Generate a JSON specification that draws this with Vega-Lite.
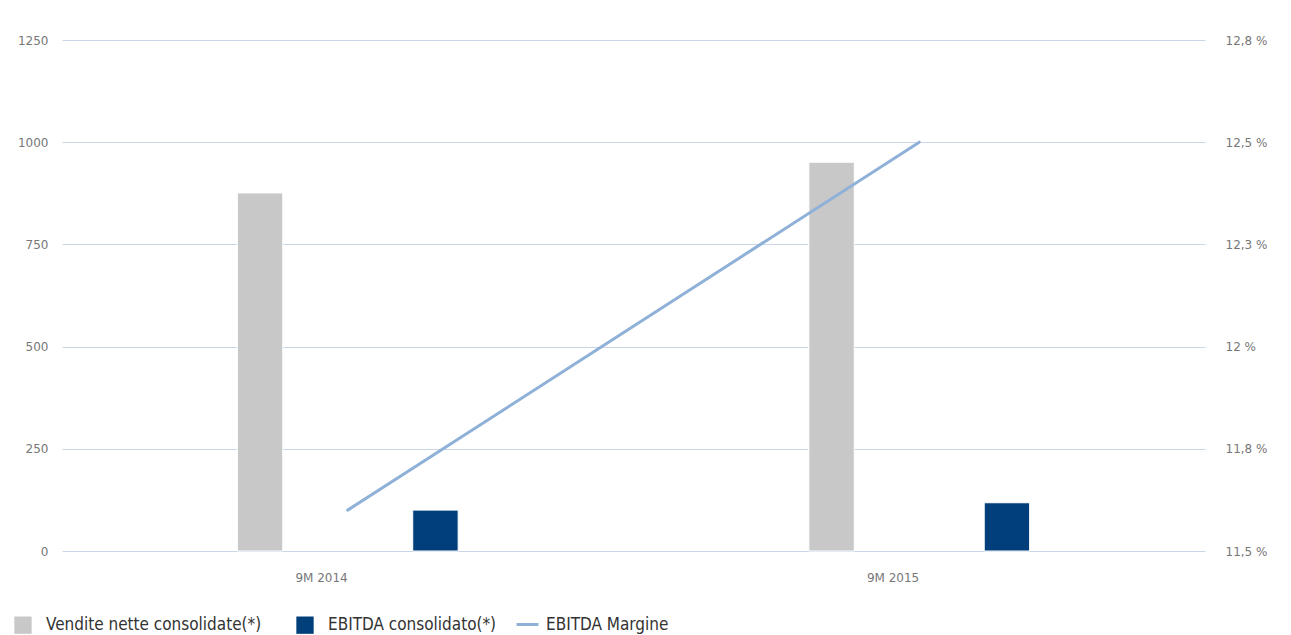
{
  "$schema": "https://vega.github.io/schema/vega-lite/v6.json",
  "width": 1143,
  "height": 511,
  "autosize": {"type": "none"},
  "padding": {"left": 62, "top": 40, "right": 86, "bottom": 84},
  "background": "white",
  "config": {
    "view": {"stroke": null},
    "axis": {"labelFont": "DejaVu Sans", "labelFontSize": 12, "labelColor": "#777777", "ticks": false, "domain": false, "title": null},
    "legend": {"labelFont": "DejaVu Sans Condensed", "labelFontSize": 17, "labelColor": "#333333", "labelLimit": 400, "labelOffset": 14, "columnPadding": 34, "direction": "horizontal", "orient": "none"}
  },
  "data": {
    "values": [
      {"periodo": "9M 2014", "serie": "Vendite nette consolidate(*)", "valore": 876},
      {"periodo": "9M 2014", "serie": "EBITDA consolidato(*)", "valore": 100},
      {"periodo": "9M 2015", "serie": "Vendite nette consolidate(*)", "valore": 951},
      {"periodo": "9M 2015", "serie": "EBITDA consolidato(*)", "valore": 118},
      {"periodo": "9M 2014", "serie": "EBITDA Margine", "margine": 11.6},
      {"periodo": "9M 2015", "serie": "EBITDA Margine", "margine": 12.5}
    ]
  },
  "encoding": {
    "x": {
      "field": "periodo", "type": "nominal",
      "scale": {"paddingInner": 0, "paddingOuter": 0},
      "axis": {"labelAngle": 0, "labelAlign": "right", "labelPadding": 21, "grid": false}
    }
  },
  "layer": [
    {
      "transform": [{"filter": "datum.serie != 'EBITDA Margine'"}],
      "mark": {"type": "bar", "stroke": "white", "strokeWidth": 1},
      "encoding": {
        "xOffset": {"field": "serie", "type": "nominal", "sort": ["Vendite nette consolidate(*)", "EBITDA consolidato(*)"], "scale": {"paddingInner": 0.741, "paddingOuter": 1.05}},
        "y": {
          "field": "valore", "type": "quantitative",
          "scale": {"domain": [0, 1250], "nice": false},
          "axis": {"values": [0, 250, 500, 750, 1000, 1250], "format": "d", "grid": true, "gridColor": "#c9d7e8", "gridWidth": 1, "labelPadding": 14}
        },
        "color": {
          "field": "serie", "type": "nominal",
          "scale": {"domain": ["Vendite nette consolidate(*)", "EBITDA consolidato(*)"], "range": ["#c8c8c8", "#003f7a"]},
          "legend": {
            "legendX": -48, "legendY": 576, "title": null,
            "symbolType": "square", "symbolSize": 300, "symbolStrokeWidth": 0
          }
        }
      }
    },
    {
      "transform": [{"filter": "datum.serie == 'EBITDA Margine'"}],
      "mark": {"type": "line", "strokeWidth": 3, "strokeCap": "round"},
      "encoding": {
        "y": {
          "field": "margine", "type": "quantitative",
          "scale": {"domain": [11.5, 12.75], "nice": false, "zero": false},
          "axis": {"orient": "right", "values": [11.5, 11.75, 12, 12.25, 12.5, 12.75], "labelExpr": "replace(format(datum.value, '.1~f'), '.', ',') + ' %'", "grid": false, "labelPadding": 20}
        },
        "stroke": {
          "field": "serie", "type": "nominal",
          "scale": {"domain": ["EBITDA Margine"], "range": ["#8fb1d8"]},
          "legend": {
            "legendX": 453, "legendY": 572, "title": null, "labelOffset": 6,
            "symbolType": "stroke", "symbolSize": 480, "symbolStrokeWidth": 3
          }
        }
      }
    }
  ],
  "resolve": {"scale": {"y": "independent"}}
}
